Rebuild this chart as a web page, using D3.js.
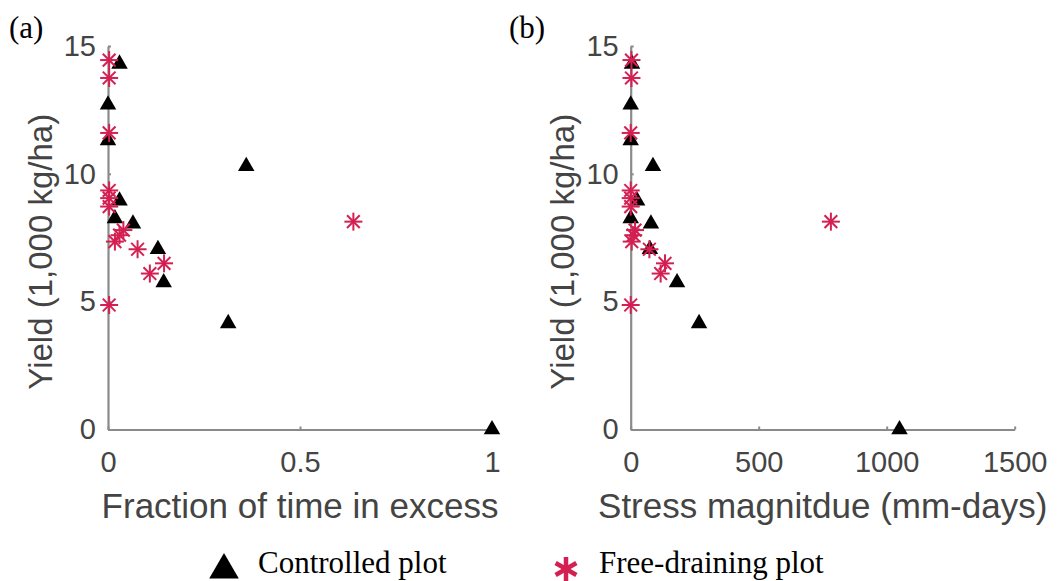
<!DOCTYPE html>
<html>
<head>
<meta charset="utf-8">
<script src="https://cdn.jsdelivr.net/npm/d3@7"></script>
<style>
  html, body { margin: 0; padding: 0; background: #fff; }
  svg { display: block; }
</style>
</head>
<body>
<svg id="chart" width="1057" height="581"></svg>
<script>
// Controlled plot (triangles)
const fracControlled   = [0.03, 0, 0, 0.36, 0.03, 0.018, 0.065, 0.13, 0.145, 0.313, 1.0];
const stressControlled = [5, 0, 0, 87, 25, 0, 79, 75, 181, 267, 1050];
const yieldControlled  = [14.3, 12.7, 11.3, 10.3, 8.95, 8.25, 8.05, 7.05, 5.75, 4.15, 0];

// Free-draining plot (asterisks)
const fracFree   = [0.003, 0.003, 0.003, 0.003, 0.003, 0.003, 0.04, 0.03, 0.018, 0.077, 0.146, 0.109, 0.003, 0.639];
const stressFree = [3, 3, 0, 0, 0, 0, 17, 10, 4, 73, 134, 117, 0, 782];
const yieldFree  = [14.45, 13.75, 11.6, 9.35, 9.05, 8.72, 7.8, 7.6, 7.35, 7.05, 6.5, 6.1, 4.87, 8.13];

const yTicks = [0, 5, 10, 15];
const fracTicks = [0, 0.5, 1];
const stressTicks = [0, 500, 1000, 1500];

const seriesNames = ["Controlled plot", "Free-draining plot"];

const svg = d3.select("#chart");
const axisColor = "#8a8a8a";
const labelColor = "#444";
const starColor = "#d41f52";
const sansFont = "'Liberation Sans', Arial, sans-serif";
const serifFont = "'Liberation Serif', 'Times New Roman', serif";

function drawStar(g, x, y, r, width) {
  [0, 45, 90, 135].forEach(a => {
    const rad = a * Math.PI / 180;
    const dx = r * Math.cos(rad), dy = r * Math.sin(rad);
    g.append("line")
      .attr("x1", x - dx).attr("y1", y - dy)
      .attr("x2", x + dx).attr("y2", y + dy)
      .attr("stroke", starColor)
      .attr("stroke-width", width);
  });
}

function panel(opts) {
  const g = svg.append("g");
  const x = d3.scaleLinear().domain(opts.xDomain).range(opts.xRange);
  const y = d3.scaleLinear().domain([0, 15]).range([429.5, 46]);

  const xAxis = d3.axisBottom(x).tickValues(opts.xTicks).tickFormat(opts.xFormat)
    .tickSizeInner(-3).tickSizeOuter(0).tickPadding(22);
  const yAxis = d3.axisLeft(y).tickValues(yTicks).tickFormat(d3.format("d"))
    .tickSizeInner(-3).tickSizeOuter(0).tickPadding(12);

  const gx = g.append("g").attr("transform", `translate(0,${y(0)})`).call(xAxis);
  const gy = g.append("g").attr("transform", `translate(${x(0)},0)`).call(yAxis);
  [gx, gy].forEach(a => {
    a.select(".domain").attr("stroke", axisColor).attr("stroke-width", 2.2);
    a.selectAll(".tick line").attr("stroke", axisColor).attr("stroke-width", 2);
    a.selectAll(".tick text").attr("fill", labelColor)
      .style("font-family", sansFont).style("font-size", "29px");
  });

  // axis titles
  g.append("text")
    .attr("x", (opts.xRange[0] + opts.xRange[1]) / 2 + opts.xTitleShift)
    .attr("y", 518)
    .attr("text-anchor", "middle")
    .attr("fill", labelColor)
    .style("font-family", sansFont).style("font-size", "35px")
    .text(opts.xTitle);
  g.append("text")
    .attr("transform", `translate(${opts.yTitleX},${(y(0) + y(15)) / 2 + 14}) rotate(-90)`)
    .attr("text-anchor", "middle")
    .attr("fill", labelColor)
    .style("font-family", sansFont).style("font-size", "33px")
    .text("Yield (1,000 kg/ha)");

  // panel letter
  g.append("text")
    .attr("x", opts.letterX).attr("y", 38)
    .attr("fill", "#000")
    .style("font-family", serifFont).style("font-size", "31px")
    .text(opts.letter);

  // controlled plot markers
  const tri = d3.symbol().type(d3.symbolTriangle).size(118);
  opts.xc.forEach((v, i) => {
    g.append("path")
      .attr("d", tri())
      .attr("transform", `translate(${x(v)},${y(yieldControlled[i])})`)
      .attr("fill", "#000");
  });

  // free-draining markers
  opts.xf.forEach((v, i) => {
    drawStar(g, x(v), y(yieldFree[i]), 9, 2);
  });
}

panel({
  xDomain: [0, 1], xRange: [108, 492], xTicks: fracTicks,
  xFormat: d => d === 0.5 ? "0.5" : d3.format("d")(d),
  xTitle: "Fraction of time in excess", xTitleShift: 0,
  yTitleX: 52, letter: "(a)", letterX: 9,
  xc: fracControlled, xf: fracFree
});

panel({
  xDomain: [0, 1500], xRange: [630.7, 1014.7], xTicks: stressTicks,
  xFormat: d3.format("d"),
  xTitle: "Stress magnitdue (mm-days)", xTitleShift: 0,
  yTitleX: 574, letter: "(b)", letterX: 509,
  xc: stressControlled, xf: stressFree
});

// legend
const legend = svg.append("g");
legend.append("path")
  .attr("d", d3.symbol().type(d3.symbolTriangle).size(380)())
  .attr("transform", "translate(224,570)")
  .attr("fill", "#000");
legend.append("text")
  .attr("x", 258).attr("y", 573)
  .style("font-family", serifFont).style("font-size", "31px")
  .attr("fill", "#000")
  .text(seriesNames[0]);
// six-armed legend asterisk
[90, 30, 150].forEach(a => {
  const rad = a * Math.PI / 180, r = 12;
  legend.append("line")
    .attr("x1", 566 - r * Math.cos(rad)).attr("y1", 569 - r * Math.sin(rad))
    .attr("x2", 566 + r * Math.cos(rad)).attr("y2", 569 + r * Math.sin(rad))
    .attr("stroke", starColor).attr("stroke-width", 4.5);
});
legend.append("text")
  .attr("x", 599).attr("y", 573)
  .style("font-family", serifFont).style("font-size", "31px")
  .attr("fill", "#000")
  .text(seriesNames[1]);
</script>
</body>
</html>
